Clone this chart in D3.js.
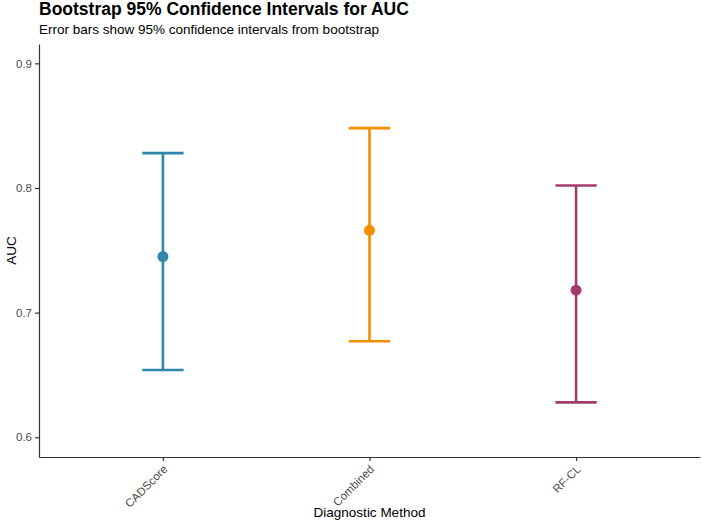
<!DOCTYPE html>
<html>
<head>
<meta charset="utf-8">
<script src="https://cdn.jsdelivr.net/npm/d3@7"></script>
<style>
  body { margin: 0; background: #fff; }
  svg { font-family: "Liberation Sans", Arial, sans-serif; }
</style>
</head>
<body>
<svg id="chart" width="702" height="524"></svg>
<script>
// data
var methods = ["CADScore", "Combined", "RF-CL"];
var aucValues = [0.745, 0.766, 0.718];
var ciLower = [0.654, 0.677, 0.628];
var ciUpper = [0.828, 0.848, 0.802];
var colors = ["#2E86AB", "#F18F01", "#A23B72"];
var yTicks = [0.6, 0.7, 0.8, 0.9];

const MARGIN = {top: 44, right: 2, bottom: 67, left: 39},
      WIDTH = 702 - MARGIN.left - MARGIN.right,
      HEIGHT = 524 - MARGIN.top - MARGIN.bottom;

var svg = d3.select("#chart");

// title and subtitle
svg.append("text")
    .attr("x", 39)
    .attr("y", 15)
    .attr("font-size", "17.5px")
    .attr("font-weight", "bold")
    .attr("fill", "#000")
    .text("Bootstrap 95% Confidence Intervals for AUC");

svg.append("text")
    .attr("x", 39)
    .attr("y", 34)
    .attr("font-size", "13.5px")
    .attr("fill", "#000")
    .text("Error bars show 95% confidence intervals from bootstrap");

var g = svg.append("g")
    .attr("transform", "translate(" + MARGIN.left + "," + MARGIN.top + ")");

// scales
var xScale = d3.scalePoint()
    .domain(methods)
    .range([0, WIDTH])
    .padding(0.6);

var yScale = d3.scaleLinear()
    .domain([0.5842, 0.9155])
    .range([HEIGHT, 0]);

var step = xScale.step();
var capHalf = step * 0.1;

// axes
var xAxis = d3.axisBottom(xScale).tickSize(4).tickSizeOuter(0).tickPadding(3);
var yAxis = d3.axisLeft(yScale).tickValues(yTicks).tickSize(4).tickSizeOuter(0)
    .tickPadding(3).tickFormat(d3.format(".1f"));

var gx = g.append("g")
    .attr("transform", "translate(0," + HEIGHT + ")")
    .call(xAxis);
gx.select(".domain").attr("stroke", "#333").attr("stroke-width", 1.2);
gx.selectAll(".tick line").attr("stroke", "#333").attr("stroke-width", 1.2);
gx.selectAll(".tick text")
    .attr("fill", "#4d4d4d")
    .attr("font-size", "11.5px")
    .attr("font-family", "Liberation Sans, Arial, sans-serif")
    .attr("text-anchor", "end")
    .attr("x", 0)
    .attr("y", 0)
    .attr("dy", "0.35em")
    .attr("transform", "translate(2,10) rotate(-45)");

var gy = g.append("g").call(yAxis);
gy.select(".domain").attr("stroke", "#333").attr("stroke-width", 1.2);
gy.selectAll(".tick line").attr("stroke", "#333").attr("stroke-width", 1.2);
gy.selectAll(".tick text")
    .attr("fill", "#4d4d4d")
    .attr("font-size", "11.5px")
    .attr("font-family", "Liberation Sans, Arial, sans-serif");

// axis titles
svg.append("text")
    .attr("transform", "translate(16," + (MARGIN.top + HEIGHT / 2) + ") rotate(-90)")
    .attr("text-anchor", "middle")
    .attr("font-size", "13.5px")
    .attr("fill", "#000")
    .text("AUC");

svg.append("text")
    .attr("x", MARGIN.left + WIDTH / 2)
    .attr("y", 517)
    .attr("text-anchor", "middle")
    .attr("font-size", "13.5px")
    .attr("fill", "#000")
    .text("Diagnostic Method");

// error bars and points
methods.forEach(function(m, i) {
    var x = xScale(m);
    var eb = g.append("g").attr("stroke", colors[i]).attr("stroke-width", 2.6);

    eb.append("line")
        .attr("x1", x).attr("x2", x)
        .attr("y1", yScale(ciLower[i])).attr("y2", yScale(ciUpper[i]));
    eb.append("line")
        .attr("x1", x - capHalf).attr("x2", x + capHalf)
        .attr("y1", yScale(ciUpper[i])).attr("y2", yScale(ciUpper[i]));
    eb.append("line")
        .attr("x1", x - capHalf).attr("x2", x + capHalf)
        .attr("y1", yScale(ciLower[i])).attr("y2", yScale(ciLower[i]));

    g.append("circle")
        .attr("cx", x)
        .attr("cy", yScale(aucValues[i]))
        .attr("r", 5.5)
        .attr("fill", colors[i]);
});
</script>
</body>
</html>
